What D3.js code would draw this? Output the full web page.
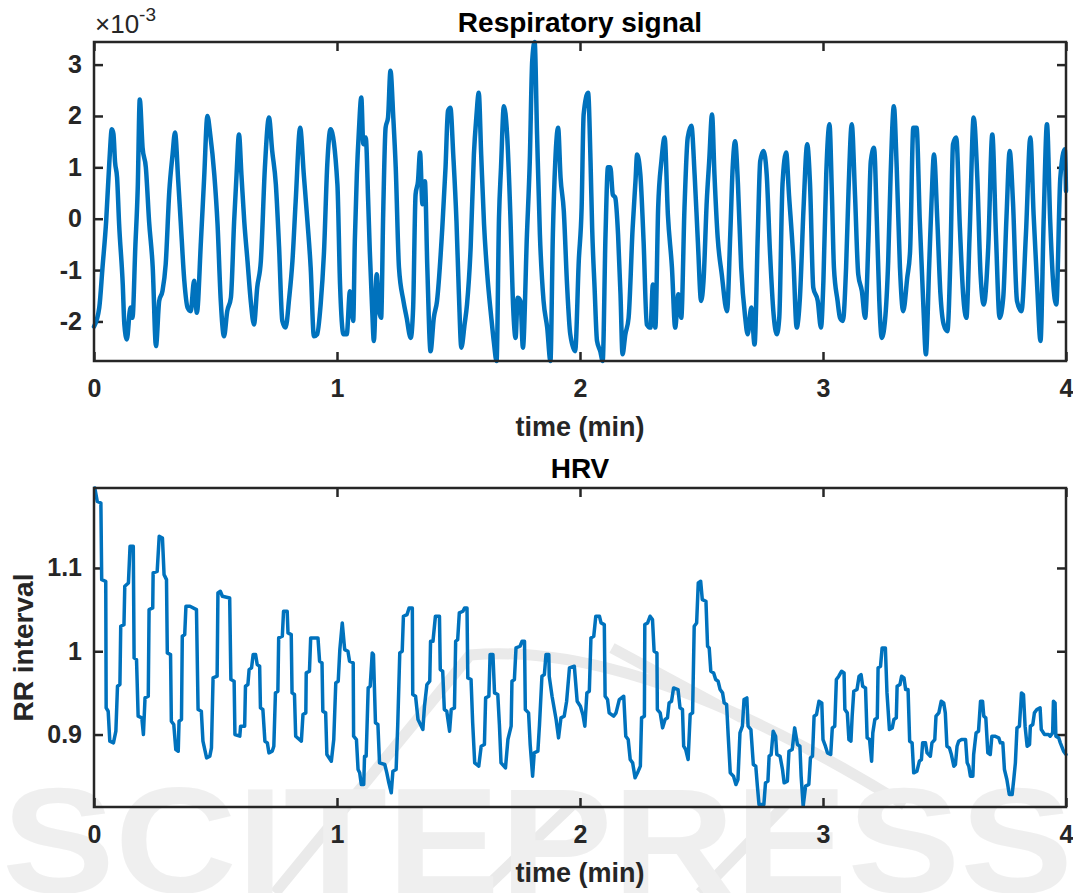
<!DOCTYPE html>
<html>
<head>
<meta charset="utf-8">
<script src="https://cdn.jsdelivr.net/npm/d3@7"></script>
<style>
  body { margin: 0; background: #fff; }
  text { font-family: "Liberation Sans", Arial, Helvetica, sans-serif; }
</style>
</head>
<body>
<svg id="chart" width="1073" height="893"></svg>
<script>
// time in seconds
const respTime = [0,1.3,2.1,3.0,3.8,4.4,4.8,5.2,5.7,6.2,7.1,7.5,8.1,9.0,9.5,10.2,10.8,11.3,12.0,12.8,13.6,14.5,15.3,16.1,16.9,17.7,18.6,19.4,20.0,20.8,21.4,22.3,23.1,23.9,24.7,25.4,26.4,27.2,28.0,28.7,29.7,30.5,31.3,32.1,32.9,33.8,34.6,35.2,35.8,36.4,37.1,37.9,38.7,39.5,40.3,41.2,42.2,43.2,44.0,44.9,45.7,46.5,47.3,48.2,49.0,49.8,50.9,51.8,52.7,53.5,54.3,55.1,55.96,56.8,57.6,58.4,
  60.1,60.75,61.6,62.4,63.2,64.0,64.4,64.9,65.4,66.0,66.5,67.1,67.7,68.1,68.7,69.1,69.8,70.4,70.9,71.4,72.0,72.6,73.2,73.9,74.5,75.3,76.4,77.2,78.2,78.8,79.4,80.0,80.5,81.1,81.7,82.3,83.1,83.9,84.7,86.0,86.8,87.4,88.0,88.7,89.5,90.1,90.7,91.5,92.1,93.0,93.8,94.4,95.0,95.6,96.3,97.1,98.1,98.7,99.4,100.0,100.5,101.2,102.0,102.8,103.5,104.1,104.6,105.3,105.9,106.9,107.6,108.2,108.8,109.4,110.1,111.0,111.9,112.7,113.3,113.9,114.6,115.2,116.0,116.8,117.6,118.8,
  119.7,120.4,120.9,122.0,122.6,123.0,123.6,124.2,125.0,125.6,126.3,126.9,127.5,128.1,128.7,129.4,130.0,130.5,131.2,132.0,133.0,133.7,134.1,134.9,135.7,136.5,137.4,138.0,138.6,139.3,140.1,140.9,141.7,142.7,143.5,144.3,145.0,145.8,146.6,147.5,148.3,149.1,149.9,150.5,151.3,151.9,152.6,153.2,154.0,155.0,156.3,157.1,157.7,158.3,159.0,159.8,160.8,161.4,162.3,163.1,163.9,164.5,165.3,166.1,166.9,167.8,168.6,169.2,170.0,170.9,171.6,172.7,173.5,174.3,175.2,176.1,176.8,177.6,178.7,179.5,
  180.1,180.8,181.6,182.2,182.7,183.6,184.2,184.9,185.7,186.3,187.1,187.9,188.7,189.6,190.4,191.2,191.8,192.6,193.3,193.9,194.5,195.3,196.1,196.7,197.5,198.2,199.0,199.8,200.8,201.5,202.3,203.1,203.9,204.8,205.4,206.2,206.8,207.4,208.2,209.0,209.8,210.7,211.5,212.1,212.9,213.8,214.6,215.4,216.2,217.2,218.1,218.9,219.7,220.8,221.8,222.7,223.6,224.5,225.3,226.1,226.9,227.9,229.0,230.1,231.2,232.0,232.9,233.7,234.5,235.3,236.1,236.8,237.6,238.6,239.7,240]
// respiratory signal, units of 1e-3
const respValue = [-2.1,-1.73,-0.95,-0.05,1.12,1.74,1.65,1.1,0.8,-0.1,-1.28,-2.06,-2.35,-1.73,-1.93,-0.56,0.6,2.32,1.38,1.0,-0.05,-0.95,-2.48,-1.6,-1.41,-0.89,0.54,1.25,1.68,0.73,-0.05,-1.21,-1.73,-1.8,-1.21,-1.83,-0.44,0.8,2.0,1.64,0.86,-0.1,-1.6,-2.29,-1.8,-1.54,-0.05,0.86,1.64,0.86,-0.05,-0.82,-1.6,-2.06,-1.34,-0.82,1.0,1.97,1.32,0.67,-0.56,-1.99,-2.12,-1.54,-0.82,0.34,1.77,0.86,-0.05,-0.95,-2.29,-2.25,-1.67,-0.63,1.06,1.74,
  0.67,-1.28,-2.25,-2.25,-1.41,-1.99,-0.44,0.86,1.7,2.36,1.45,1.58,0.34,-0.63,-1.8,-2.38,-1.08,-1.8,-1.93,0.08,1.77,1.97,2.88,1.97,1.0,-0.95,-1.6,-1.93,-2.32,-1.73,0.47,0.73,1.29,0.28,0.73,-0.95,-2.58,-1.93,-1.6,-0.18,1.0,2.1,2.16,1.25,-0.05,-1.47,-2.51,-2.06,-1.67,-0.56,1.25,1.97,2.45,1.25,-0.1,-1.08,-1.93,-2.38,-2.77,0.02,1.0,2.19,1.64,0.08,-1.73,-2.32,-1.54,-1.6,-2.51,-0.31,1.12,3.07,3.44,1.64,-0.31,-1.6,-2.12,-2.77,-0.31,1.12,1.77,0.8,0.15,-1.28,-2.25,-2.58,
  -0.82,0.21,2.03,2.45,1.12,-0.18,-1.34,-2.38,-2.58,-2.77,-0.31,1.0,1.0,0.47,0.41,-0.31,-1.47,-2.64,-2.25,-1.93,-0.18,0.73,1.25,0.86,-0.44,-2.06,-2.12,-1.28,-2.12,0.21,1.12,1.58,0.08,-0.95,-2.12,-1.47,-1.93,0.21,1.58,1.81,0.86,-0.44,-1.6,-1.21,0.34,1.12,2.03,0.86,-0.37,-1.08,-1.8,-0.31,1.0,1.51,0.67,-0.95,-1.93,-2.25,-1.73,-2.45,-0.31,1.12,1.32,0.86,-0.63,-1.86,-2.25,-1.93,0.67,1.29,0.47,-0.82,-2.12,-1.54,0.21,1.45,0.67,-1.34,-1.6,-2.12,
  -1.21,0.86,1.84,0.47,-0.95,-1.6,-1.93,-1.99,-0.95,0.54,1.84,0.47,-1.08,-1.41,-1.93,-0.44,1.12,1.38,-0.05,-1.6,-2.32,-1.99,-0.82,0.86,2.19,1.0,-0.95,-1.8,-1.15,-0.63,1.77,1.77,-0.05,-1.73,-2.64,-0.95,0.34,1.25,0.02,-1.47,-2.06,-2.19,-0.63,1.45,1.58,-0.18,-1.47,-1.93,-0.31,1.97,0.8,-1.08,-1.67,-0.56,1.64,-0.31,-1.93,-1.54,0.02,1.32,0.34,-1.6,-1.8,-0.31,1.58,0.08,-1.34,-2.38,0.02,1.84,-0.05,-1.21,-1.67,0.8,1.35,0.54]

const hrvTime = [0.2,0.8,1.7,1.9,2.9,3.0,3.5,3.9,4.8,5.4,5.8,6.4,6.6,7.4,7.6,8.5,8.9,9.7,9.9,10.5,10.9,11.8,12.2,12.6,13.4,13.6,14.5,14.6,15.6,16.1,16.9,17.3,17.9,18.1,18.9,19.1,19.7,20.2,20.8,21.0,21.6,21.8,22.4,22.7,23.7,25.3,25.7,26.5,26.9,27.8,28.6,29.0,29.4,30.4,30.6,31.2,31.7,33.5,33.8,34.6,34.8,36.0,36.2,37.2,37.4,38.0,38.3,38.9,39.3,39.9,40.3,40.9,41.1,41.7,42.2,42.8,43.2,44.0,44.4,44.8,45.4,45.6,46.5,46.8,47.7,47.9,48.7,48.9,49.5,49.8,51.2,51.6,52.3,52.4,53.2,53.5,55.3,55.7,56.3,56.5,57.2,57.5,58.6,59.2,59.7,
  60.3,60.7,61.3,61.9,62.7,63.1,64.0,64.1,64.8,65.2,65.6,66.0,66.6,66.8,67.2,67.7,68.2,68.7,69.0,69.5,70.1,70.5,71.8,72.3,72.8,73.4,73.8,74.6,75.0,75.5,76.1,76.4,77.3,77.8,78.6,78.7,79.4,80.0,81.2,81.6,82.2,82.9,83.1,83.7,84.3,85.3,85.5,86.1,86.5,87.1,87.8,88.2,89.0,89.3,89.8,90.2,91.1,91.5,92.1,92.3,93.1,93.5,94.0,95.0,95.6,96.4,96.7,97.5,97.8,98.5,98.9,99.7,100.1,100.5,101.6,102.2,103.0,103.2,103.8,104.2,105.2,105.7,106.3,106.5,107.3,107.7,108.3,108.7,109.6,110.0,110.6,111.2,111.6,112.3,112.4,113.1,114.1,114.7,115.3,116.1,116.7,117.4,118.6,
  119.3,120.1,120.7,121.2,121.7,122.3,122.7,123.4,123.9,124.8,125.2,126.0,126.2,126.8,127.2,128.3,128.9,129.7,130.8,131.3,131.9,132.4,133.0,133.6,134.2,134.9,135.2,135.9,136.0,136.7,137.3,137.9,138.3,139.0,139.1,139.8,140.4,141.0,141.6,142.0,142.6,143.1,144.2,144.7,145.3,145.6,146.1,146.7,147.2,147.8,148.2,148.8,149.2,149.8,150.2,151.1,151.5,151.9,152.3,153.0,153.5,154.1,154.6,155.2,155.6,156.2,156.6,157.1,157.9,158.5,159.0,159.5,160.1,160.5,161.2,161.5,162.2,162.8,163.4,163.8,164.2,165.4,165.8,166.4,166.7,167.2,167.7,168.3,168.6,169.4,170.0,170.4,171.2,171.6,172.4,173.0,173.7,174.3,174.6,175.1,175.7,176.5,176.9,177.4,177.8,178.4,179.0,179.7,
  180.0,180.6,181.1,181.9,182.3,182.9,183.3,183.9,184.6,185.2,185.4,186.0,186.4,186.9,187.2,187.6,188.4,188.9,189.4,189.8,190.5,190.9,191.5,192.0,192.3,192.8,193.4,193.6,194.2,194.6,195.4,195.8,196.4,197.1,197.5,198.1,198.3,199.0,199.4,200.0,200.4,201.0,201.4,202.0,202.4,203.2,203.8,204.3,204.6,205.3,205.7,206.5,206.9,207.6,207.9,208.6,209.2,209.8,210.2,210.6,211.2,211.7,212.3,212.7,213.1,213.5,214.2,215.2,215.6,216.0,216.4,217.0,217.2,217.8,218.4,218.9,219.4,219.7,220.2,220.7,221.3,221.7,222.4,223.4,223.8,224.4,224.8,225.4,226.0,226.7,227.1,227.5,227.9,228.5,229.0,229.5,229.9,230.4,231.0,231.2,231.8,232.2,232.8,233.6,233.9,234.7,235.7,236.1,236.7,236.9,237.3,237.5,238.2,238.6,239.4,240]
const hrvValue = [1.196,1.18,1.178,1.086,1.084,0.932,0.928,0.892,0.89,0.904,0.958,0.96,1.03,1.032,1.078,1.082,1.126,1.126,0.992,0.99,0.922,0.92,0.9,0.944,0.946,1.05,1.052,1.094,1.096,1.138,1.136,1.092,1.086,0.998,0.996,0.916,0.912,0.882,0.88,0.916,0.918,1.018,1.02,1.054,1.054,1.05,0.93,0.928,0.892,0.872,0.874,0.884,0.968,0.97,1.07,1.072,1.066,1.064,0.966,0.964,0.9,0.898,0.91,0.91,0.958,0.96,0.978,0.98,0.996,0.996,0.984,0.982,0.932,0.93,0.892,0.89,0.878,0.88,0.886,0.95,0.952,1.016,1.018,1.048,1.048,1.022,1.02,0.95,0.948,0.898,0.892,0.924,0.926,0.974,0.976,1.016,1.016,0.988,0.986,0.928,0.926,0.876,0.868,0.894,0.962,
  0.964,1.002,1.034,1.002,1.0,0.988,0.986,0.898,0.894,0.858,0.854,0.84,0.84,0.874,0.874,0.956,0.958,0.998,0.996,0.914,0.912,0.866,0.864,0.854,0.842,0.83,0.856,0.858,0.912,0.998,1.0,1.042,1.044,1.052,1.052,0.948,0.946,0.918,0.906,0.934,0.96,0.964,1.012,1.012,1.042,1.042,0.978,0.976,0.93,0.928,0.904,0.93,0.932,1.012,1.014,1.046,1.048,1.052,1.052,0.968,0.966,0.914,0.866,0.862,0.886,0.888,0.944,0.946,0.996,0.996,0.95,0.948,0.912,0.866,0.86,0.894,0.91,0.964,0.966,1.004,1.006,1.012,1.012,0.93,0.926,0.888,0.85,0.878,0.88,0.912,0.97,0.972,0.996,0.996,0.97,0.946,0.918,0.896,0.92,0.922,0.94,0.98,0.982,
  0.94,0.934,0.924,0.91,0.95,0.952,1.016,1.018,1.042,1.042,1.034,1.032,0.946,0.942,0.926,0.922,0.926,0.942,0.946,0.898,0.894,0.87,0.866,0.848,0.854,0.862,0.92,0.922,1.032,1.034,1.042,1.038,1.0,0.998,0.93,0.926,0.908,0.918,0.92,0.938,0.94,0.956,0.954,0.932,0.93,0.886,0.882,0.87,0.924,0.926,1.03,1.034,1.082,1.084,1.062,1.06,1.006,1.004,0.976,0.974,0.966,0.964,0.954,0.95,0.938,0.936,0.898,0.854,0.85,0.84,0.846,0.902,0.91,0.942,0.944,0.91,0.906,0.864,0.862,0.838,0.816,0.816,0.842,0.844,0.874,0.876,0.904,0.898,0.876,0.874,0.858,0.842,0.844,0.88,0.882,0.908,0.888,0.886,0.85,0.814,0.838,0.84,0.872,0.874,0.922,0.924,0.94,0.938,
  0.894,0.886,0.878,0.876,0.908,0.91,0.966,0.97,0.976,0.974,0.93,0.926,0.894,0.892,0.922,0.952,0.954,0.97,0.972,0.958,0.956,0.896,0.894,0.868,0.902,0.918,0.92,0.98,0.982,1.004,1.004,0.95,0.906,0.908,0.918,0.92,0.958,0.96,0.97,0.968,0.954,0.954,0.892,0.89,0.854,0.856,0.868,0.87,0.89,0.89,0.878,0.874,0.89,0.894,0.922,0.926,0.94,0.938,0.926,0.886,0.884,0.876,0.862,0.864,0.886,0.892,0.894,0.894,0.866,0.862,0.85,0.85,0.876,0.902,0.904,0.94,0.94,0.922,0.92,0.878,0.876,0.898,0.898,0.896,0.89,0.89,0.858,0.846,0.828,0.828,0.846,0.866,0.908,0.91,0.95,0.948,0.91,0.886,0.888,0.91,0.912,0.926,0.93,0.932,0.906,0.9,0.9,0.898,0.902,0.94,0.938,0.898,0.896,0.89,0.88,0.876]

const xTickMin = [0, 1, 2, 3, 4]
const respTicks = [-2, -1, 0, 1, 2, 3]
const hrvTicks = [0.9, 1, 1.1]

const svg = d3.select('#chart')
const ink = '#262626'
const lineColor = '#0072BD'
const left = 94
const right = 1066

// faint publisher watermark behind everything
const mark = svg.append('g').attr('class', 'watermark').attr('opacity', 0.55)
mark.append('path')
  .attr('d', 'M275,893 L470,655 Q640,640 905,805 M612,648 L742,718 M480,893 L572,805 M700,893 L790,800')
  .attr('fill', 'none')
  .attr('stroke', '#d9d9d9')
  .attr('stroke-width', 11)
mark.append('text')
  .attr('x', 2)
  .attr('y', 893)
  .attr('textLength', 1071)
  .attr('lengthAdjust', 'spacingAndGlyphs')
  .style('font-size', '150px')
  .style('font-weight', 'bold')
  .style('fill', '#e3e3e3')
  .text('SCITEPRESS')

function drawPanel({ top, bottom, domain, ticks, times, values, curve, title, ylabel, lineWidth }) {
  const x = d3.scaleLinear().domain([0, 240]).range([left, right])
  const y = d3.scaleLinear().domain(domain).range([bottom, top])
  const secTicks = xTickMin.map((m) => m * 60)

  const g = svg.append('g')

  // x axis (ticks pointing inward, labels below)
  g.append('g')
    .attr('transform', `translate(0, ${bottom})`)
    .call(d3.axisBottom(x).tickValues(secTicks).tickFormat((d) => d / 60)
      .tickSizeInner(-9).tickSizeOuter(0).tickPadding(18))
  g.append('g')
    .attr('transform', `translate(0, ${top})`)
    .call(d3.axisTop(x).tickValues(secTicks).tickFormat('')
      .tickSizeInner(-9).tickSizeOuter(0))

  // y axis
  g.append('g')
    .attr('transform', `translate(${left}, 0)`)
    .call(d3.axisLeft(y).tickValues(ticks).tickFormat((d) => String(d))
      .tickSizeInner(-9).tickSizeOuter(0).tickPadding(12))
  g.append('g')
    .attr('transform', `translate(${right}, 0)`)
    .call(d3.axisRight(y).tickValues(ticks).tickFormat('')
      .tickSizeInner(-9).tickSizeOuter(0))

  g.selectAll('.domain').remove()
  g.selectAll('.tick line').attr('stroke', ink).attr('stroke-width', 2.5)
  g.selectAll('.tick text')
    .attr('fill', ink)
    .style('font-size', '25px')
    .style('font-weight', 'bold')

  // the signal
  const line = d3.line()
    .x((d, i) => x(times[i]))
    .y((d) => y(d))
    .curve(curve)
  g.append('path')
    .datum(values)
    .attr('d', line)
    .attr('fill', 'none')
    .attr('stroke', lineColor)
    .attr('stroke-width', lineWidth)
    .attr('stroke-linejoin', 'round')
    .attr('stroke-linecap', 'round')

  // box
  g.append('rect')
    .attr('x', left)
    .attr('y', top)
    .attr('width', right - left)
    .attr('height', bottom - top)
    .attr('fill', 'none')
    .attr('stroke', ink)
    .attr('stroke-width', 2.5)

  g.append('text')
    .attr('x', (left + right) / 2)
    .attr('y', top - 10)
    .attr('text-anchor', 'middle')
    .attr('fill', '#000')
    .style('font-size', '28px')
    .style('font-weight', 'bold')
    .text(title)

  g.append('text')
    .attr('x', (left + right) / 2)
    .attr('y', bottom + 75)
    .attr('text-anchor', 'middle')
    .attr('fill', ink)
    .style('font-size', '27px')
    .style('font-weight', 'bold')
    .text('time (min)')

  if (ylabel) {
    g.append('text')
      .attr('transform', `translate(33, ${(top + bottom) / 2}) rotate(-90)`)
      .attr('text-anchor', 'middle')
      .attr('fill', ink)
      .style('font-size', '28px')
      .style('font-weight', 'bold')
      .text(ylabel)
  }
  return g
}

const top1 = drawPanel({
  top: 42, bottom: 361, domain: [-2.77, 3.44], ticks: respTicks,
  times: respTime, values: respValue, curve: d3.curveMonotoneX,
  title: 'Respiratory signal', lineWidth: 4.5
})

// exponent label, MATLAB style
const expo = top1.append('text')
  .attr('x', 95)
  .attr('y', 33)
  .attr('fill', ink)
  .style('font-size', '26px')
expo.append('tspan').text('\u00d710')
expo.append('tspan').attr('dy', -12).style('font-size', '19px').text('-3')

drawPanel({
  top: 488, bottom: 807, domain: [0.813, 1.196], ticks: hrvTicks,
  times: hrvTime, values: hrvValue, curve: d3.curveLinear,
  title: 'HRV', ylabel: 'RR interval', lineWidth: 3.5
})
</script>
</body>
</html>
